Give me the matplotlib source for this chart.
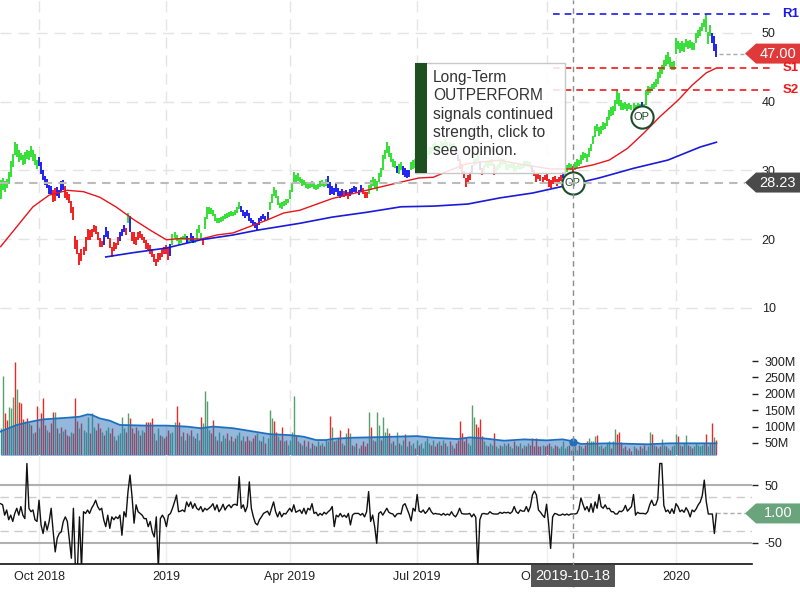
import matplotlib
matplotlib.use("Agg")
import matplotlib.pyplot as plt
from matplotlib.patches import Rectangle, Polygon
from matplotlib.lines import Line2D
import pandas as pd

plt.rcParams['font.family'] = ['Liberation Sans', 'DejaVu Sans']

# trading days shown on the chart
holidays = ['2018-11-22', '2018-12-05', '2018-12-25', '2019-01-01', '2019-01-21',
            '2019-02-18', '2019-04-19', '2019-05-27', '2019-07-04', '2019-09-02',
            '2019-11-28', '2019-12-25', '2020-01-01', '2020-01-20']
days = pd.bdate_range('2018-09-04', '2020-01-31')
days = days[~days.isin(pd.to_datetime(holidays))]

# daily bar lows / highs (one row per month)
low = [25.8, 27.2, 26.8, 27.5, 28.0, 29.0, 30.5, 32.2, 32.0, 31.2, 31.5, 30.8, 31.0, 31.6, 31.5, 32.0, 31.4, 30.8, 30.2,
       30.6, 29.5, 28.6, 27.9, 27.4, 26.5, 26.6, 25.4, 25.6, 26.3, 26.0, 26.8, 27.2, 26.0, 25.7, 25.3, 23.8, 22.8, 18.5, 17.8, 16.3, 16.8, 17.7,
       18.3, 19.8, 19.9, 20.3, 21.0, 20.8, 19.9, 18.9, 18.8, 19.2, 20.3, 20.0, 18.7, 17.4, 18.2, 18.6, 19.2, 19.7, 20.5, 21.0, 20.6,
       22.3, 21.0, 19.7, 19.3, 19.1, 19.9, 20.2, 19.8, 19.4, 18.6, 18.3, 17.8, 17.4, 16.6, 16.1, 16.6, 17.0, 17.4, 17.9,
       17.9, 17.0, 17.6, 19.1, 20.0, 19.7, 19.1, 19.4, 19.8, 19.9, 19.5, 19.4, 19.7, 19.5, 19.4, 19.8, 20.9, 19.9, 19.2, 21.5, 22.9,
       23.7, 23.6, 23.4, 22.6, 22.3, 22.3, 22.5, 22.7, 22.9, 23.1, 23.2, 23.4, 23.3, 23.5, 23.8, 24.4, 23.9, 23.4, 23.1,
       23.4, 22.7, 22.4, 22.1, 21.6, 21.3, 22.0, 22.6, 22.9, 22.7, 22.8, 24.2, 25.3, 26.2, 26.0, 25.0, 24.5, 24.4, 24.8, 25.0, 25.2,
       25.9, 26.8, 28.2, 28.0, 28.4, 28.2, 27.8, 27.9, 27.5, 27.3, 27.4, 27.6, 27.3, 27.1, 27.3, 27.6, 27.7, 27.6, 27.8, 27.5, 26.4,
       26.6, 26.4, 26.9, 26.2, 26.0, 26.3, 26.1, 26.4, 25.9, 26.2, 26.6, 26.8, 26.7, 26.4, 26.8, 26.5, 26.0, 26.0, 26.6, 27.2, 27.8, 27.4,
       27.0, 28.3, 29.0, 30.0, 31.6, 32.6, 32.0, 31.2, 30.5, 30.3, 29.6, 29.5, 30.0, 29.4, 29.1, 28.9, 29.0, 30.0, 30.2, 30.4,
       30.3, 29.8, 30.5, 31.0, 31.2, 31.6, 32.2, 32.4, 32.8, 33.0, 32.6, 32.5, 33.1, 33.0, 33.4, 33.2, 33.1, 32.9, 33.0, 32.4, 31.4, 30.2,
       29.5, 28.9, 27.6, 28.2, 28.6, 29.5, 30.6, 30.8, 31.3, 30.0, 29.3, 29.8, 30.5, 30.3, 30.6, 30.7, 29.4, 29.7, 30.0, 30.4, 30.8, 30.9,
       30.1, 30.0, 30.3, 30.4, 29.8, 29.9, 30.2, 30.0, 30.2, 30.4, 30.6, 30.5, 30.4, 29.8, 29.2, 28.3, 28.7, 28.5, 28.2, 28.6,
       28.5, 27.6, 27.4, 28.0, 28.3, 27.7, 28.1, 28.4, 28.9, 29.3, 29.7, 30.2, 30.0, 29.6, 30.1, 30.4, 30.6, 31.0, 31.5, 31.8, 31.2, 31.9, 32.8,
       33.9, 34.8, 35.7, 35.0, 35.3, 35.9, 36.0, 36.5, 37.4, 37.9, 38.0, 38.6, 39.6, 39.3, 38.8, 38.8, 39.0, 38.6, 39.0, 38.8,
       38.5, 38.4, 38.9, 38.6, 39.0, 38.8, 39.5, 41.0, 41.2, 41.5, 41.8, 42.1, 42.6, 43.5, 44.0, 44.6, 45.2, 45.5, 45.0, 44.6, 44.6,
       46.9, 47.6, 47.1, 47.4, 47.3, 47.9, 47.6, 47.8, 47.5, 47.5, 48.5, 49.2, 49.5, 50.3, 50.8, 50.2, 48.4, 49.6, 48.5, 47.4, 46.5]
high = [28.6, 28.9, 28.5, 28.8, 29.8, 31.3, 32.4, 34.1, 33.8, 33.0, 32.6, 32.3, 32.7, 33.0, 32.8, 33.6, 32.9, 32.4, 31.5,
        31.9, 31.2, 30.0, 29.2, 28.8, 27.9, 27.8, 27.2, 27.4, 27.6, 27.1, 28.4, 28.6, 27.8, 26.8, 26.5, 25.5, 24.7, 20.5, 19.8, 18.0, 18.5, 18.9,
        20.3, 21.5, 21.3, 21.4, 22.1, 21.9, 21.0, 20.2, 19.7, 20.6, 21.8, 21.2, 20.2, 18.8, 19.6, 19.4, 20.3, 21.0, 21.5, 22.1, 21.6,
        23.8, 23.3, 21.0, 21.0, 20.3, 21.0, 21.2, 20.8, 20.3, 19.8, 19.4, 19.2, 18.6, 17.9, 17.1, 18.0, 18.0, 18.5, 18.9,
        19.1, 18.7, 19.3, 20.7, 21.0, 20.6, 20.1, 20.3, 20.4, 20.8, 20.4, 20.0, 20.9, 20.5, 20.2, 21.5, 22.0, 20.9, 20.2, 23.2, 24.7,
        24.6, 24.5, 24.3, 23.6, 23.1, 23.1, 23.2, 23.4, 23.6, 23.8, 23.9, 24.1, 24.0, 24.3, 24.6, 25.4, 24.8, 24.2, 23.9,
        24.2, 23.8, 23.1, 22.8, 22.5, 22.4, 23.1, 23.4, 23.6, 23.4, 24.0, 25.4, 26.6, 27.6, 27.2, 26.3, 25.3, 25.4, 25.6, 25.9, 25.8,
        27.1, 28.2, 29.8, 29.3, 29.6, 29.1, 28.8, 28.6, 28.3, 28.2, 28.0, 28.4, 28.2, 27.9, 28.0, 28.5, 28.6, 28.3, 28.8, 29.2, 28.3,
        27.8, 27.4, 28.2, 27.4, 27.0, 27.3, 27.0, 27.2, 26.8, 27.3, 27.5, 27.7, 27.6, 27.2, 27.9, 27.4, 26.9, 26.8, 27.9, 28.6, 29.0, 28.8,
        28.4, 29.6, 30.3, 32.2, 33.0, 34.1, 33.6, 32.5, 31.6, 31.3, 30.6, 31.0, 31.2, 30.6, 30.3, 30.0, 30.0, 31.2, 31.5, 31.6,
        31.6, 30.9, 31.6, 31.9, 32.2, 32.8, 33.4, 33.4, 33.8, 34.2, 33.7, 33.5, 34.3, 34.0, 34.6, 34.1, 34.2, 33.9, 34.0, 33.5, 32.3, 31.6,
        31.0, 29.9, 28.9, 29.3, 29.8, 30.8, 31.6, 31.8, 32.6, 31.4, 30.3, 30.8, 31.4, 31.2, 31.5, 31.6, 31.0, 30.6, 30.9, 31.5, 31.6, 31.7,
        31.3, 30.9, 31.0, 31.1, 30.9, 30.7, 31.0, 30.8, 31.0, 31.4, 31.4, 31.3, 31.2, 30.8, 30.1, 29.5, 29.6, 29.3, 29.1, 29.3,
        29.6, 28.7, 28.6, 29.0, 29.2, 28.8, 29.0, 29.4, 29.8, 30.4, 30.8, 31.1, 30.9, 30.6, 31.2, 31.6, 31.5, 32.2, 32.7, 32.6, 32.4, 33.2, 33.9,
        35.0, 36.5, 36.7, 36.3, 36.5, 37.0, 36.9, 37.8, 38.8, 39.2, 39.3, 40.2, 41.7, 41.2, 40.3, 39.8, 40.0, 39.6, 39.8, 39.5,
        39.8, 39.5, 39.8, 39.6, 39.9, 39.7, 41.7, 42.3, 42.2, 42.6, 42.9, 43.3, 44.3, 44.9, 45.3, 46.0, 46.8, 47.2, 46.5, 45.8, 45.9,
        49.3, 48.9, 48.5, 48.9, 48.5, 49.1, 48.9, 49.0, 48.7, 48.6, 50.0, 50.4, 50.8, 51.5, 52.1, 52.7, 50.2, 51.2, 50.0, 49.6, 48.4]
# bar colour: g = outperform, b = neutral, r = underperform
bar_col = ('ggggggggggggggggggg'
           'bbbbbbbrrbbbbrrrrrrrrrr'
           'rrrrrrrrrbbbrrrrrbbbr'
           'gbrrrrrrrrrrrrrrrrr'
           'rrbgggggggbgbbggggrgg'
           'ggggggggggggggggbbb'
           'bbbbbbbbbbbgggggggggg'
           'gggggggggggggggggggbb'
           'bbbbbbrbrbbbbbbrrrgggg'
           'ggggggggggbggbbbbggg'
           'gggggggggggggggggggbbr'
           'rrrrrbgggbrgggggrggggg'
           'gggggggggggggbrrrrrr'
           'rrrrrrrrbggggrggggggggg'
           'gggggggggggggggggggg'
           'ggggbgggggggggggggggg'
           'ggggggggggggggggggbbb')

# volume in millions of shares
volume = [95, 254, 141, 120, 160, 156, 190, 297, 214, 175, 172, 123, 116, 126, 110, 105, 80, 85, 163,
          95, 141, 187, 105, 90, 85, 110, 144, 144, 95, 80, 100, 88, 92, 75, 70, 85, 80, 187, 116, 95, 110, 90,
          85, 130, 80, 141, 100, 90, 110, 95, 85, 75, 90, 100, 80, 95, 70, 60, 75, 80, 130, 95, 85,
          140, 125, 95, 80, 100, 90, 75, 90, 85, 115, 115, 115, 125, 80, 60, 95, 75, 70, 65,
          70, 90, 80, 85, 115, 163, 115, 70, 85, 60, 80, 75, 90, 70, 65, 80, 60, 130, 110, 208, 178,
          90, 80, 120, 70, 60, 85, 55, 75, 65, 80, 60, 70, 55, 65, 75, 85, 60, 70, 55,
          70, 60, 55, 65, 75, 80, 60, 55, 70, 50, 65, 150, 125, 116, 85, 70, 60, 98, 55, 60, 45,
          60, 85, 193, 70, 55, 50, 45, 60, 40, 55, 35, 50, 45, 40, 55, 45, 50, 40, 60, 55, 132,
          98, 55, 60, 65, 90, 50, 45, 80, 95, 82, 45, 40, 50, 35, 45, 55, 40, 50, 144, 100, 60, 55,
          143, 105, 60, 129, 83, 95, 79, 50, 55, 45, 83, 50, 45, 60, 78, 40, 55, 45, 50, 35,
          60, 45, 50, 35, 55, 65, 50, 45, 60, 40, 50, 55, 45, 60, 50, 40, 55, 45, 35, 50, 60, 117,
          79, 55, 64, 50, 45, 166, 130, 107, 100, 124, 70, 55, 45, 40, 50, 45, 79, 40, 35, 45, 40, 50,
          45, 50, 40, 35, 55, 45, 40, 50, 35, 45, 40, 50, 45, 65, 40, 65, 40, 40, 45, 40,
          45, 50, 40, 35, 45, 40, 35, 40, 56, 35, 40, 45, 30, 35, 40, 30, 45, 40, 35, 45, 55, 66, 57,
          55, 72, 75, 40, 45, 35, 40, 49, 56, 35, 56, 93, 78, 84, 54, 35, 40, 30, 35, 25,
          40, 35, 30, 40, 35, 45, 30, 40, 84, 78, 45, 40, 35, 40, 62, 45, 40, 35, 30, 40, 45,
          77, 72, 45, 40, 50, 73, 45, 40, 35, 40, 50, 45, 40, 45, 50, 78, 40, 50, 111, 68, 59]
vol_col = ('ggrrgggrgrrrgrgrgrr'
           'grrrgrrrgrgrgrrrgrrrgrg'
           'ggrggrrrgrggrrgrggggr'
           'grrrrgrgrrrrrgrgrgr'
           'rrgggrrgrgrgrgrggrggg'
           'grrgrgrggrgrgrggrgr'
           'rrgrrggrgrgggrrgrrgrg'
           'gggrgrgrgrgrgrgrgrggr'
           'grgrrgrgrgrgrgrrrrgrgr'
           'ggrgggrgrggrggrgrggr'
           'grgggggrgrrgrgrgrgrrrr'
           'rrrggggrrrrggrggrggrgg'
           'grggrgrgrgrgrrrrrrgr'
           'rrggrrgggggrgrggrggrrgg'
           'ggrggrgggrggrrrgrgrr'
           'grgrgrgggrgrgrggrgrgg'
           'grgrggrgrggggggrggrgr')

# momentum oscillator, one value per day
osc = [18, 16, -2, 7, -10, -2, -13, 1, 10, -2, 13, -2, -8, 88, 10, 4, 7, -10, -13,
       24, -19, -34, -13, -28, -13, 10, -31, -66, -42, -34, -31, -13, -5, -13, -45, -77, 10, -95, -95, -5, -95, 4,
       1, 7, 1, 10, 16, 24, 13, 7, 10, -10, -22, -2, -25, -5, -10, -5, -8, -2, -37, 4, -5,
       39, 68, 30, -16, 16, 4, 1, -2, -8, -8, -22, -13, -31, -40, -5, -95, -8, -2, -8,
       -22, -2, 1, 10, 21, 33, 4, 5, 7, 4, 21, 13, 21, 10, 18, 10, 7, 13, 4, 10, 7,
       10, 13, 18, 7, 16, 4, 9, 17, 7, 13, 16, 11, 16, 17, 15, 65, 10, 16, 4,
       13, 56, 10, -5, -16, -19, -10, -5, 1, 3, 5, -2, 10, 21, 4, -5, 4, -5, 1, 0, 5,
       10, 4, 16, 3, 5, 7, 1, 10, 0, 10, 7, 18, 1, 3, -3, 1, -2, 3, 0, 4, 7,
       13, -22, -2, -5, 1, -5, -2, -6, 1, -19, -2, 1, 1, 1, -2, 1, -5, 4, 39, -13, -2, -22,
       -51, 1, 4, -2, 4, 10, 3, 1, 0, -5, 0, 1, 0, 15, 18, 9, 0, -12, 10, 5,
       34, 5, 3, 7, 1, 5, 11, 4, 0, 1, 0, 0, -2, 1, -2, 0, -2, 4, -2, -5, 1, 10,
       1, 0, 0, 0, 1, -5, 0, -6, -95, -10, 0, 1, 0, 0, 4, 1, 0, 0, 0, 3, 1, 3,
       2, 3, 1, 4, 13, 4, 1, 7, 5, 5, 13, 4, 13, 33, 40, 33, 7, 3, -2, -6,
       17, -16, -60, -5, 1, 0, -2, -2, 0, -2, 0, -2, 0, 0, 0, 1, 9, 28, 17, 7, 13, 4, 18,
       3, 21, 10, 34, 13, 10, 16, 9, 10, 4, 4, 0, 0, 5, 4, 7, 15, 5, 9, 13,
       34, -2, 3, 1, 1, 1, 0, 4, 16, 24, 15, 16, 26, 88, 88, 15, 4, 7, 1, 9, 1,
       18, 13, 4, 7, 3, 11, 5, -5, 7, 4, 9, 16, 21, 32, 59, 21, 0, 0, 0, -34, 1]

# moving averages (day number, value)
ma_short_day = [0, 8, 16, 24, 33, 41, 49, 57, 66, 74, 82, 90, 99, 107, 115, 123, 132, 140, 148, 164, 181, 198,
                207, 214, 222, 231, 247, 253, 272, 283, 293, 301, 310, 318, 326, 335, 342, 349, 354]
ma_short = [18.9, 21.8, 24.7, 26.4, 27.1, 26.9, 26.1, 24.7, 22.8, 21.3, 19.9, 20.1, 20.0, 20.6, 20.9, 21.8, 22.8,
            23.8, 24.2, 25.9, 27.1, 28.3, 28.9, 29.0, 30.0, 31.0, 31.5, 31.1, 30.2, 30.2, 30.8, 31.5, 33.2, 35.4,
            37.8, 40.2, 42.4, 44.2, 44.9]
ma_long_day = [52, 65, 82, 99, 115, 127, 148, 164, 181, 198, 214, 231, 247, 263, 283, 296, 313, 330, 346, 354]
ma_long = [17.4, 18.0, 18.7, 19.9, 20.6, 21.3, 22.3, 23.2, 23.9, 24.7, 24.8, 25.1, 26.0, 26.7, 28.0, 28.9,
           30.3, 31.5, 33.4, 34.1]
vol_ma_day = [0, 8, 15, 21, 33, 39, 43, 45, 49, 54, 59, 72, 82, 92, 99, 105, 115, 125, 133, 143, 150, 156,
              161, 165, 174, 188, 206, 214, 226, 232, 239, 249, 259, 270, 278, 284, 287, 301, 320, 331, 354]
vol_ma = [85, 105, 115, 122, 127, 130, 137, 136, 125, 118, 105, 103, 103, 100, 95, 100, 95, 85, 77, 74, 69, 59,
          59, 63, 66, 68, 71, 66, 62, 67, 64, 57, 61, 58, 61, 54, 47, 49, 46, 49, 49]

last_price = 47.00
cross_price = 28.23
osc_last = 1.00
r1, s1, s2 = 52.7, 44.9, 41.7
cross_date = '2019-10-18'
sr_start = '2019-10-04'
op_marks = [('2019-10-18', 28.23), ('2019-12-06', 37.8)]
quarter_ticks = [('2018-10', 'Oct 2018'), ('2019-01', '2019'), ('2019-04', 'Apr 2019'),
                 ('2019-07', 'Jul 2019'), ('2019-10', 'Oct 2019'), ('2020-01', '2020')]

def day_of(d):
    return int(days.get_indexer([pd.Timestamp(d)])[0])

n = len(days)
x = list(range(n))
price_colors = {'g': '#35e035', 'b': '#2020ee', 'r': '#f02020'}
volume_colors = {'g': '#5a9e6e', 'r': '#ea2b25'}

W, H = 800, 600
def fx(px):
    return px / W
def fy(py):
    return 1 - py / H

fig = plt.figure(figsize=(8, 6), dpi=100)
fig.patch.set_facecolor('white')

ax = fig.add_axes([0, fy(355), fx(752), 355 / H])
axv = fig.add_axes([0, fy(455), fx(752), 110 / H])
axo = fig.add_axes([0, fy(564), fx(752), 109 / H])
for a in (ax, axv, axo):
    a.set_xlim(-0.3, 371.6)
    a.patch.set_alpha(0)
    for s in a.spines.values():
        s.set_visible(False)
ax.set_ylim(3.13, 54.8)
axv.set_ylim(13.4, 348.8)
axo.set_ylim(-87.1, 102.8)

tick_pos = [int((days.to_period('M') == pd.Period(m)).argmax()) for m, _ in quarter_ticks]
tick_lab = [lab for _, lab in quarter_ticks]

# grid
for t in tick_pos:
    ax.axvline(t, color='#e4e4e4', lw=1, dashes=(8, 5), zorder=0)
    axv.axvline(t, color='#e4e4e4', lw=1, dashes=(8, 5), zorder=0)
    axo.axvline(t, color='#eeeeee', lw=1, zorder=0)
for p in [10, 20, 30, 40, 50]:
    ax.axhline(p, color='#e4e4e4', lw=1, dashes=(8, 5), zorder=0)

# price bars
ax.vlines(x, low, high, colors=[price_colors[c] for c in bar_col], lw=1.4, zorder=2)
ax.plot(ma_short_day, ma_short, color='#e8141c', lw=1.0, zorder=3)
ax.plot(ma_long_day, ma_long, color='#1a1ad8', lw=1.2, zorder=3)

# support / resistance
xr = ax.get_xlim()[1] + 9
i0 = day_of(sr_start)
ax.plot([i0, xr], [r1, r1], color='#1a1aee', lw=1.2, dashes=(4, 3), clip_on=False, zorder=3)
ax.plot([i0, xr], [s1, s1], color='#ee1a1a', lw=1.2, dashes=(4, 3), clip_on=False, zorder=3)
ax.plot([i0, xr], [s2, s2], color='#ee1a1a', lw=1.2, dashes=(4, 3), clip_on=False, zorder=3)

ci = day_of(cross_date)
for d, p in op_marks:
    ax.plot(day_of(d), p, 'o', ms=16, mfc='white', mec='#1b4d2b', mew=1.5, zorder=6)
    ax.text(day_of(d), p, 'OP', ha='center', va='center', fontsize=8, color='#1b4d2b', zorder=7)

# price axis labels
ax.yaxis.tick_right()
ax.set_yticks([10, 20, 30, 40, 50])
ax.tick_params(axis='y', length=0, pad=7, labelsize=9, labelcolor='#222222')
ax.set_xticks([])

# volume
axv.vlines(x, 0, volume, colors=[volume_colors[c] for c in vol_col], lw=1.0, zorder=2)
axv.fill_between(vol_ma_day, 0, vol_ma, color='#2873b9', alpha=0.5, lw=0, zorder=3)
axv.plot(vol_ma_day, vol_ma, color='#1f6fc0', lw=1.3, zorder=4)
axv.plot(ci, 54, 'o', ms=5, color='#1f6fc0', zorder=5)
axv.yaxis.tick_right()
axv.set_yticks([50, 100, 150, 200, 250, 300])
axv.set_yticklabels(['50M', '100M', '150M', '200M', '250M', '300M'])
axv.tick_params(axis='y', length=4, width=1, pad=5, labelsize=9, labelcolor='#222222', color='#222222')
axv.set_xticks([])

# oscillator
for lv in (50, -50):
    axo.axhline(lv, color='#b0b0b0', lw=1.5, zorder=1)
for lv in (30, -30):
    axo.axhline(lv, color='#cccccc', lw=1, dashes=(6, 4), zorder=1)
axo.plot(x, osc, color='#111111', lw=1.0, zorder=3)
axo.spines['bottom'].set_visible(True)
axo.spines['bottom'].set_color('#111111')
axo.spines['bottom'].set_linewidth(1.2)
axo.yaxis.tick_right()
axo.set_yticks([50, -50])
axo.set_yticklabels(['50', '-50'])
axo.tick_params(axis='y', length=4, width=1, pad=5, labelsize=9, labelcolor='#222222', color='#222222')
axo.set_xticks(tick_pos)
axo.set_xticklabels(tick_lab)
axo.tick_params(axis='x', length=0, pad=5, labelsize=9, labelcolor='#222222')

fig.canvas.draw()

def to_px(a, xv, yv):
    X, Y = a.transData.transform((xv, yv))
    return X, H - Y

# crosshair
cx, _ = to_px(ax, ci, 0)
fig.add_artist(Line2D([fx(cx), fx(cx)], [fy(587), 1], transform=fig.transFigure,
                      color='#8c8c8c', lw=1, dashes=(4, 3), zorder=4))
_, cy = to_px(ax, 0, cross_price)
fig.add_artist(Line2D([0, fx(745)], [fy(cy), fy(cy)], transform=fig.transFigure,
                      color='#bbbbbb', lw=1.5, dashes=(4, 3), zorder=1))

# last value guides
lx, ly = to_px(ax, n - 0.5, last_price)
fig.add_artist(Line2D([fx(lx + 2), fx(745)], [fy(ly), fy(ly)], transform=fig.transFigure,
                      color='#aaaaaa', lw=1, dashes=(3, 2), zorder=4))
ox, oy = to_px(axo, n - 1, osc_last)
fig.add_artist(Line2D([fx(ox), fx(745)], [fy(oy), fy(oy)], transform=fig.transFigure,
                      color='#aaaaaa', lw=1, dashes=(3, 2), zorder=4))

def value_tag(py, text, color):
    pts = [(fx(745), fy(py)), (fx(756), fy(py - 10)), (fx(800), fy(py - 10)),
           (fx(800), fy(py + 10)), (fx(756), fy(py + 10))]
    fig.add_artist(Polygon(pts, closed=True, transform=fig.transFigure, facecolor=color,
                           edgecolor='none', zorder=11))
    fig.text(fx(778), fy(py), text, ha='center', va='center', color='white', fontsize=10.5, zorder=12)

value_tag(ly, '%.2f' % last_price, '#e0393a')
value_tag(cy, '%.2f' % cross_price, '#4a4a4a')
value_tag(oy, '%.2f' % osc_last, '#6aa47c')

for lvl, name, col in [(r1, 'R1', '#1a1aee'), (s1, 'S1', '#ee1a1a'), (s2, 'S2', '#ee1a1a')]:
    _, py = to_px(ax, 0, lvl)
    fig.text(fx(791), fy(py), name, ha='center', va='center', color=col,
             fontsize=9.5, fontweight='bold', zorder=12)

# date tag under the crosshair
fig.text(fx(cx), fy(576), cross_date, ha='center', va='center', color='white', fontsize=10.5,
         zorder=12, bbox=dict(boxstyle='square,pad=0.3', fc='#555555', ec='none'))

# opinion pop-up
fig.add_artist(Rectangle((fx(415), fy(173)), 150 / W, 110 / H, transform=fig.transFigure,
                         facecolor=(1, 1, 1, 0.86), edgecolor='#c8c8c8', lw=1, zorder=9))
fig.add_artist(Rectangle((fx(415), fy(173)), 12 / W, 110 / H, transform=fig.transFigure,
                         facecolor='#1d4f1f', edgecolor='none', zorder=10))
fig.text(fx(433), fy(70), 'Long-Term\nOUTPERFORM\nsignals continued\nstrength, click to\nsee opinion.',
         ha='left', va='top', fontsize=11.2, linespacing=1.28, color='#333333', zorder=11)

fig.savefig('out.png', dpi=100)
